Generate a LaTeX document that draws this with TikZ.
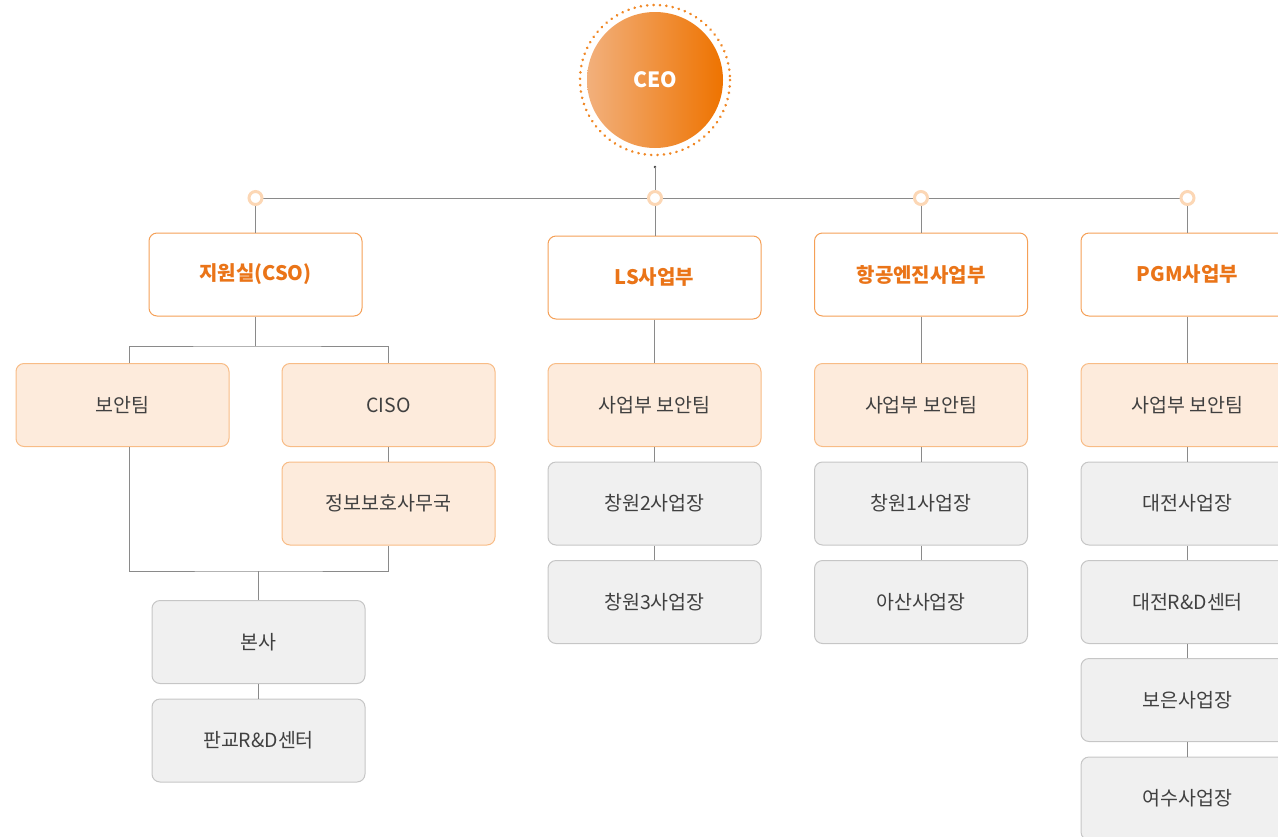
\documentclass[tikz,border=0pt]{standalone}
\usepackage{fontspec}
\setmainfont{Noto Sans CJK KR}
\usetikzlibrary{calc}
\definecolor{orD}{HTML}{EE7300}
\definecolor{orL}{HTML}{F2B07C}
\definecolor{orB}{HTML}{F5A057}
\definecolor{orT}{HTML}{EA7418}
\definecolor{lfill}{HTML}{FDEBDC}
\definecolor{lbord}{HTML}{F8BC86}
\definecolor{gfill}{HTML}{F0F0F0}
\definecolor{gbord}{HTML}{C6C6C6}
\definecolor{txt}{HTML}{404040}
\definecolor{lnc}{HTML}{8A8A8A}
\definecolor{ring}{HTML}{FCD7B5}
\tikzset{
  box/.style={rounded corners=8pt, minimum width=213pt, minimum height=83pt, line width=1pt, inner sep=0pt, font=\fontsize{19.5}{22}\selectfont},
  lvlone/.style={box, draw=orB, fill=white, text=orT, font=\fontsize{20}{22}\selectfont\bfseries},
  lvltwo/.style={box, draw=lbord, fill=lfill, text=txt},
  lvlthree/.style={box, draw=gbord, fill=gfill, text=txt},
  conn/.style={draw=lnc, line width=0.9pt},
  knot/.style={circle, draw=ring, fill=white, line width=3pt, minimum size=13pt, inner sep=0pt}
}
\begin{document}
\begin{tikzpicture}[x=1pt,y=-1pt]
\useasboundingbox (0,0) rectangle (1278,836);
\clip (0,0) rectangle (1278,836);
% CEO
\shade[left color=orL, right color=orD] (655,80) circle (68);
\draw[orD!85, line width=2.8pt, dash pattern=on 0.1pt off 6.3pt, line cap=round] (655,80) circle (75);
\node[text=white, font=\fontsize{21}{23}\selectfont\bfseries] (ceo) at (655,80) {CEO};
\coordinate (ceoend) at (655,167);
\fill[txt] (ceoend) circle (1.3);
% level 1
\node[lvlone] (cso) at (255.5,274.5) {지원실(CSO)};
\node[lvlone] (ls) at (654.5,277.5) {LS사업부};
\node[lvlone] (aero) at (921,274.5) {항공엔진사업부};
\node[lvlone] (pgm) at (1187.5,274.5) {PGM사업부};
% knots
\coordinate (k1) at (255.5,198);
\coordinate (k2) at (655,198);
\coordinate (k3) at (921,198);
\coordinate (k4) at (1187.5,198);
\draw[conn] (k1) -- (k4);
\draw[conn] (ceoend) -- (k2);
\draw[conn] (k1) -- (k1 |- cso.north);
\draw[conn] (k2) -- (k2 |- ls.north);
\draw[conn] (k3) -- (k3 |- aero.north);
\draw[conn] (k4) -- (k4 |- pgm.north);
\node[knot] at (k1) {};
\node[knot] at (k2) {};
\node[knot] at (k3) {};
\node[knot] at (k4) {};
% CSO branch
\node[lvltwo] (sec) at (122.5,405) {보안팀};
\node[lvltwo] (ciso) at (388.5,405) {CISO};
\node[lvltwo] (office) at (388.5,503.5) {정보보호사무국};
\node[lvlthree] (hq) at (258.5,642) {본사};
\node[lvlthree] (pangyo) at (258.5,740.5) {판교R\&D센터};
\coordinate (split) at (255.5,346);
\draw[conn] (cso.south) -- (split);
\draw[conn] ([xshift=7pt]sec.north) |- (split) -| (ciso.north);
\draw[conn] (ciso.south) -- (office.north);
\coordinate (merge) at (258.5,571);
\draw[conn] ([xshift=7pt]sec.south) |- (merge) -| (office.south);
\draw[conn] (merge) -- (hq.north);
\draw[conn] (hq.south) -- (pangyo.north);
% LS branch
\node[lvltwo] (lssec) at (654.5,405) {사업부 보안팀};
\node[lvlthree] (cw2) at (654.5,503.5) {창원2사업장};
\node[lvlthree] (cw3) at (654.5,602) {창원3사업장};
\draw[conn] (ls.south) -- (lssec.north);
\draw[conn] (lssec.south) -- (cw2.north);
\draw[conn] (cw2.south) -- (cw3.north);
% Aero branch
\node[lvltwo] (aerosec) at (921,405) {사업부 보안팀};
\node[lvlthree] (cw1) at (921,503.5) {창원1사업장};
\node[lvlthree] (asan) at (921,602) {아산사업장};
\draw[conn] (aero.south) -- (aerosec.north);
\draw[conn] (aerosec.south) -- (cw1.north);
\draw[conn] (cw1.south) -- (asan.north);
% PGM branch
\node[lvltwo] (pgmsec) at (1187.5,405) {사업부 보안팀};
\node[lvlthree] (dj) at (1187.5,503.5) {대전사업장};
\node[lvlthree] (djrd) at (1187.5,602) {대전R\&D센터};
\node[lvlthree] (boeun) at (1187.5,700) {보은사업장};
\node[lvlthree] (yeosu) at (1187.5,798.5) {여수사업장};
\draw[conn] (pgm.south) -- (pgmsec.north);
\draw[conn] (pgmsec.south) -- (dj.north);
\draw[conn] (dj.south) -- (djrd.north);
\draw[conn] (djrd.south) -- (boeun.north);
\draw[conn] (boeun.south) -- (yeosu.north);
\end{tikzpicture}
\end{document}
